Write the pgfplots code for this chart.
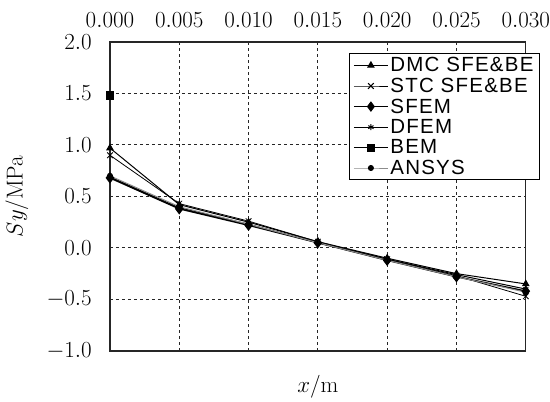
\RequirePackage{fix-cm}
\documentclass[border=0pt]{standalone}
\usepackage{pgfplots}
\pgfplotsset{compat=1.18}
\usepackage{fontspec}
\newfontfamily\legfont[LetterSpace=6]{Liberation Sans}
\begin{document}
\begin{tikzpicture}
\begin{axis}[
  scale only axis, width=416pt, height=309pt,
  xmin=0, xmax=0.03, ymin=-1, ymax=2,
  xtick={0,0.005,0.01,0.015,0.02,0.025,0.03},
  xticklabel pos=upper,
  xticklabel style={/pgf/number format/.cd, fixed, fixed zerofill, precision=3, /tikz/.cd, anchor=base, inner sep=0pt, yshift=14pt},
  scaled x ticks=false,
  ytick={-1,-0.5,0,0.5,1,1.5,2},
  yticklabel style={/pgf/number format/.cd, fixed, fixed zerofill, precision=1, /tikz/.cd, anchor=east, inner sep=0pt, xshift=-18pt},
  every tick label/.append style={font=\fontsize{23}{26}\selectfont},
  grid=major,
  grid style={black!85, dash pattern=on 3pt off 3pt, line width=0.9pt},
  major tick length=0pt,
  xlabel={$x$/m}, ylabel={$Sy$/MPa},
  every axis label/.append style={font=\fontsize{23}{27}\selectfont},
  xlabel style={at={(axis description cs:0.5,0)}, anchor=center, yshift=-36pt},
  ylabel style={at={(axis description cs:0,0.5)}, anchor=center, yshift=93pt},
  axis line style={line width=1.3pt, black!85},
  legend style={at={(axis cs:0.01724,1.893)}, anchor=north west, font=\legfont\fontsize{20.5}{22}\selectfont, draw=black, line width=1pt, row sep=0.8pt, inner xsep=4pt, inner ysep=2pt},
  legend image code/.code={\draw[mark repeat=2,mark phase=2,#1] plot coordinates {(0pt,0pt)(17pt,0pt)(34pt,0pt)};},
  legend image post style={line width=1pt},
  legend cell align=left,
]
\addplot[black, line width=1pt, mark=triangle*, mark size=3.5pt] coordinates {(0,0.97)(0.005,0.42)(0.01,0.25)(0.015,0.06)(0.02,-0.10)(0.025,-0.25)(0.03,-0.35)};
\addlegendentry{DMC SFE\&BE}
\addplot[black, line width=0.8pt, mark=x, mark size=4pt] coordinates {(0,0.90)(0.005,0.43)(0.01,0.26)(0.015,0.06)(0.02,-0.11)(0.025,-0.27)(0.03,-0.47)};
\addlegendentry{STC SFE\&BE}
\addplot[black, line width=1.5pt, mark=diamond*, mark size=4.5pt] coordinates {(0,0.68)(0.005,0.38)(0.01,0.22)(0.015,0.05)(0.02,-0.12)(0.025,-0.28)(0.03,-0.42)};
\addlegendentry{SFEM}
\addplot[black, line width=1pt, mark=asterisk, mark size=3pt] coordinates {(0,0.69)(0.005,0.39)(0.01,0.23)(0.015,0.05)(0.02,-0.11)(0.025,-0.26)(0.03,-0.40)};
\addlegendentry{DFEM}
\addplot[black, line width=1.2pt, mark=square*, mark size=3.5pt] coordinates {(0,1.48)};
\addlegendentry{BEM}
\addplot[black!45, line width=1pt, mark=*, mark size=2.5pt, mark options={black}] coordinates {(0,0.70)(0.005,0.40)(0.01,0.23)(0.015,0.05)(0.02,-0.12)(0.025,-0.28)(0.03,-0.43)};
\addlegendentry{ANSYS}
\end{axis}
\path ([xshift=-110pt,yshift=-45pt]current axis.south west) rectangle ([xshift=24pt,yshift=42pt]current axis.north east);
\end{tikzpicture}
\end{document}
